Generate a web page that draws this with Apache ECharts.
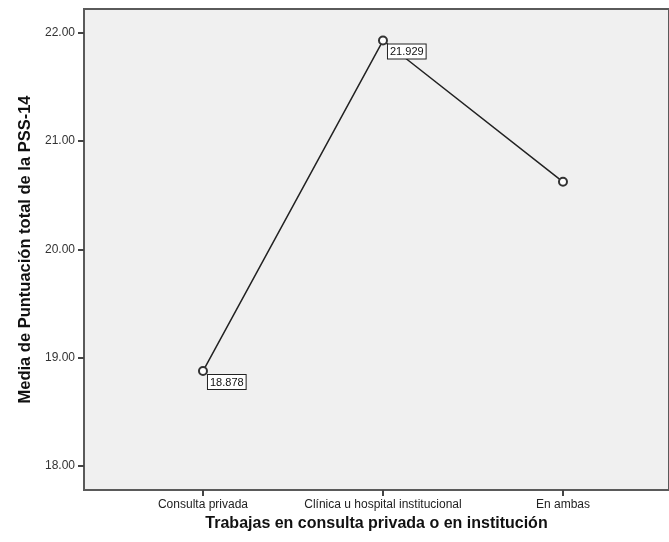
<!DOCTYPE html>
<html>
<head>
<meta charset="utf-8">
<style>
  html, body { margin: 0; padding: 0; background: #fff; }
  #chart-container { width: 669px; height: 542px; }
</style>
<script src="https://cdn.jsdelivr.net/npm/echarts@6/dist/echarts.min.js"></script>
</head>
<body>
<div id="chart-container"></div>
<script>
var categories = ["Consulta privada", "Clínica u hospital institucional", "En ambas"];
var means = [18.878, 21.929, 20.625];
var labelled = [true, true, false];
var yTicks = [18, 19, 20, 21, 22];

var dom = document.getElementById("chart-container");
var myChart = echarts.init(dom, null, { renderer: "canvas" });
var option;

var points = means.map(function (v, i) {
  return {
    value: [i, v],
    label: { show: labelled[i] }
  };
});

option = {
  animation: false,
  textStyle: { fontFamily: "Liberation Sans" },
  grid: {
    left: 84,
    top: 9,
    right: 0,
    bottom: 52,
    show: true,
    backgroundColor: "#f0f0f0",
    borderColor: "#5a5a5a",
    borderWidth: 2
  },
  xAxis: {
    type: "value",
    min: -0.661,
    max: 2.589,
    splitLine: { show: false },
    axisLine: { show: false, onZero: false },
    axisTick: {
      show: true,
      length: 6,
      customValues: [0, 1, 2],
      lineStyle: { color: "#444", width: 2 }
    },
    axisLabel: {
      customValues: [0, 1, 2],
      formatter: function (v) { return categories[Math.round(v)]; },
      color: "#222",
      fontSize: 12,
      margin: 9
    },
    name: "Trabajas en consulta privada o en institución",
    nameLocation: "middle",
    nameGap: 20,
    nameTextStyle: { fontSize: 16, fontWeight: "bold", color: "#111" }
  },
  yAxis: {
    type: "value",
    min: 17.78,
    max: 22.22,
    splitLine: { show: false },
    axisLine: { show: false, onZero: false },
    axisTick: {
      show: true,
      length: 6,
      customValues: yTicks,
      lineStyle: { color: "#444", width: 2 }
    },
    axisLabel: {
      customValues: yTicks,
      formatter: function (v) { return v.toFixed(2); },
      color: "#333",
      fontSize: 12,
      margin: 9
    },
    name: "Media de Puntuación total de la PSS-14",
    nameLocation: "middle",
    nameGap: 46,
    nameTextStyle: { fontSize: 16.5, fontWeight: "bold", color: "#111" }
  },
  series: [
    {
      type: "line",
      data: points,
      symbol: "emptyCircle",
      symbolSize: 8,
      itemStyle: { color: "#333", borderWidth: 1.2 },
      lineStyle: { color: "#222", width: 1.5 },
      label: {
        position: [10, 9],
        align: "left",
        verticalAlign: "top",
        formatter: function (p) { return p.value[1].toFixed(3); },
        fontSize: 11,
        color: "#111",
        backgroundColor: "#fff",
        borderColor: "#222",
        borderWidth: 1,
        padding: [2, 2, 1, 2]
      }
    }
  ]
};

myChart.setOption(option);
window.addEventListener("resize", myChart.resize);
</script>
</body>
</html>
